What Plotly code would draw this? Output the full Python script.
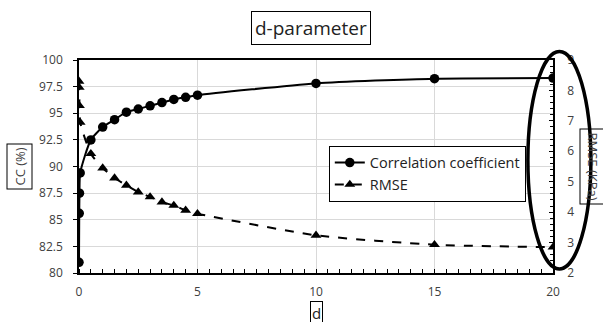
import plotly.graph_objects as go

# Data
d_values = [0, 0.01, 0.02, 0.05, 0.5, 1, 1.5, 2, 2.5, 3, 3.5, 4, 4.5, 5, 10, 15, 20]
cc_values = [81.0, 85.6, 87.5, 89.4, 92.5, 93.7, 94.4, 95.1, 95.4, 95.7, 96.0, 96.3, 96.5, 96.7, 97.8, 98.25, 98.3]
rmse_values = [8.3, 8.1, 7.5, 6.95, 5.92, 5.45, 5.12, 4.88, 4.66, 4.5, 4.33, 4.22, 4.06, 3.95, 3.24, 2.93, 2.85]
x_ticks = [0, 5, 10, 15, 20]
cc_ticks = [80, 82.5, 85, 87.5, 90, 92.5, 95, 97.5, 100]
rmse_ticks = [2, 3, 4, 5, 6, 7, 8, 9]

FONT = "Open Sans"
TICKC = "#404040"

fig = go.Figure()
fig.add_trace(go.Scatter(
    x=d_values, y=cc_values, name="Correlation coefficient",
    mode="lines+markers", line=dict(color="black", width=2, shape="spline", smoothing=0.6),
    marker=dict(symbol="circle", size=9.5, color="black"),
    yaxis="y"))
fig.add_trace(go.Scatter(
    x=d_values, y=rmse_values, name="RMSE",
    mode="lines+markers", line=dict(color="black", width=2, dash="dash", shape="spline", smoothing=0.6),
    marker=dict(symbol="triangle-up", size=9.5, color="black"),
    yaxis="y2"))

fig.update_layout(
    width=603, height=322,
    margin=dict(l=79, r=50, t=60, b=49),
    paper_bgcolor="white", plot_bgcolor="white",
    font=dict(family=FONT, size=12, color=TICKC),
    showlegend=True,
    legend=dict(x=0.527, y=0.598, xanchor="left", yanchor="top",
                bgcolor="white", bordercolor="black", borderwidth=1,
                font=dict(family=FONT, size=14.5, color="#222")),
    xaxis=dict(range=[0, 20], tickvals=x_ticks, showgrid=True, gridcolor="#d9d9d9",
               showline=True, linecolor="black", linewidth=1.5, mirror=True,
               ticks="", zeroline=False, ticklabelstandoff=7,
               minor=dict(dtick=0.5, ticks="inside", ticklen=4, tickcolor="black", showgrid=False),
               tickfont=dict(size=12, color=TICKC)),
    yaxis=dict(range=[80, 100], tickvals=cc_ticks, ticktext=[("%g" % v) for v in cc_ticks],
               showgrid=True, gridcolor="#d9d9d9", showline=True, linecolor="black", linewidth=1.5,
               ticks="outside", ticklen=4, tickcolor="black", zeroline=False, ticklabelstandoff=8,
               tickfont=dict(size=12, color=TICKC)),
    yaxis2=dict(range=[2, 9], tickvals=rmse_ticks, overlaying="y", side="right",
                showgrid=False, showline=True, linecolor="black", linewidth=1.5,
                ticks="inside", ticklen=4, tickcolor="black", zeroline=False, ticklabelstandoff=10,
                minor=dict(dtick=0.2, ticks="inside", ticklen=3, tickcolor="black"),
                tickfont=dict(size=12, color=TICKC)),
)

# boxed title and axis titles
fig.add_annotation(text="d-parameter", xref="paper", yref="paper", x=(311 - 79) / 474, y=1.0,
                   xanchor="center", yanchor="middle",
                   yshift=32.5, showarrow=False, font=dict(family=FONT, size=19, color="#222"),
                   bordercolor="black", borderwidth=1, borderpad=3, bgcolor="white")
fig.add_annotation(text="CC (%)", xref="paper", yref="paper", x=0, y=0.5, xshift=-60, yshift=0,
                   xanchor="center", yanchor="middle",
                   textangle=-90, showarrow=False, font=dict(family=FONT, size=13, color="#404040"),
                   bordercolor="black", borderwidth=1, borderpad=3)
fig.add_annotation(text="RMSE (KPa)", xref="paper", yref="paper", x=1, y=0.5, xshift=40, yshift=0,
                   xanchor="center", yanchor="middle",
                   textangle=90, showarrow=False, font=dict(family=FONT, size=13, color="#404040"),
                   bordercolor="black", borderwidth=1, borderpad=3)
fig.add_annotation(text="d", xref="paper", yref="paper", x=(316 - 79) / 474, y=0, yshift=-40,
                   xanchor="center", yanchor="middle",
                   showarrow=False, font=dict(family=FONT, size=15, color="#222"),
                   bordercolor="black", borderwidth=1, borderpad=1)

# highlight ellipse around the right axis
fig.add_shape(type="circle", xref="paper", yref="paper",
              x0=0.947, x1=1.08, y0=0.019, y1=1.04,
              line=dict(color="black", width=3.5))

fig.write_html("out.html")
